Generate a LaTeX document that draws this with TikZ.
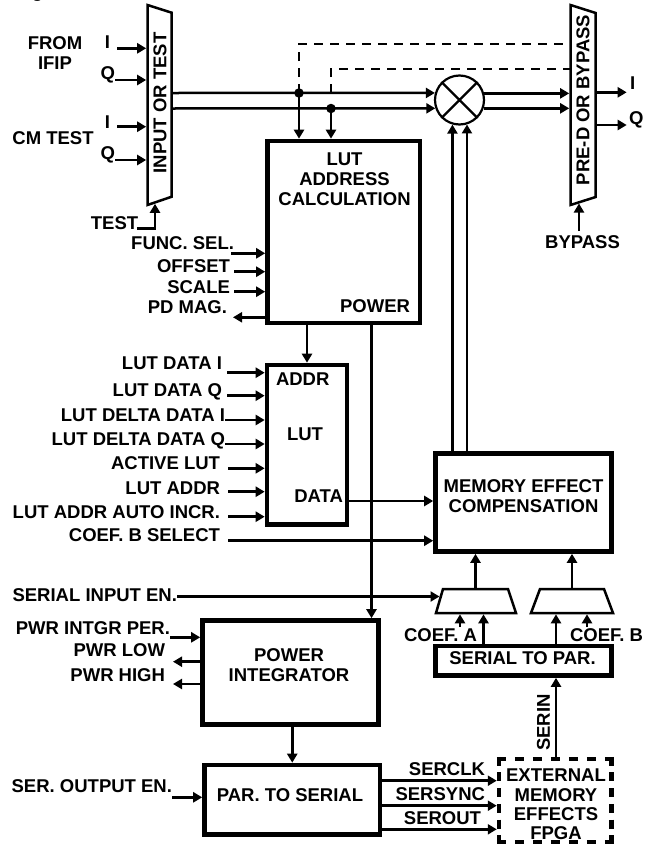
\documentclass[tikz,border=0pt]{standalone}
\usepackage{fontspec}
\setmainfont{Liberation Sans}
\usetikzlibrary{arrows.meta}
\newcommand\lbf{\fontsize{18.5bp}{20bp}\selectfont\bfseries}
\newcommand\lbfs{\fontsize{18.5bp}{19.3bp}\selectfont\bfseries}
\begin{document}
\begin{tikzpicture}[x=1bp,y=-1bp,
 every node/.style={font=\lbf,inner sep=0pt,outer sep=0pt},
 conn/.style={line width=2.5bp},
 arr/.style={line width=2.5bp,-{Triangle[length=9bp,width=10bp]}},
 blk/.style 2 args={draw,line width=4.6bp,outer sep=2.3bp,minimum width=#1,minimum height=#2},
 muxline/.style={line width=2.5bp,line join=miter},
 dsh/.style={line width=2.2bp,dash pattern=on 9bp off 7bp},
 fdash/.style={line width=4.5bp,dash pattern=on 9bp off #1},
 lbl/.style={anchor=east},
 dotn/.style={circle,fill,inner sep=0pt,minimum size=9.5bp}
]
\useasboundingbox (0,0) rectangle (655,848);
\fill[white] (0,0) rectangle (655,848);

% caption fragment
\node[anchor=base] (capg) at (37.5,-2.2) {g};

% ---------- blocks ----------
\node[blk={152.5bp}{182bp}] (lac) at (343.75,232) {};
\node[blk={80bp}{159.5bp}] (lut) at (307,444.75) {};
\node[blk={176bp}{98bp}] (mec) at (523.5,502.5) {};
\node[blk={176bp}{104bp}] (pi) at (290.5,672.5) {};
\node[blk={175.5bp}{69.5bp}] (pts) at (292.25,799.75) {};
\node[blk={176bp}{29.5bp}] (stp) at (523.5,660.75) {};
\node[minimum width=112.5bp,minimum height=83bp,outer sep=2.25bp] (fpga) at (555.25,800.5) {};
% dashed outline of the FPGA block, side by side so that the corners are solid
\coordinate (fa) at (496.75,759);
\coordinate (fb) at (613.75,759);
\coordinate (fc) at (496.75,842);
\coordinate (fd) at (613.75,842);
\coordinate (fe) at (499,756.75);
\coordinate (ff) at (499,844.25);
\coordinate (fg) at (611.5,756.75);
\coordinate (fh) at (611.5,844.25);
\draw[fdash=9bp] (fa) -- (fb);
\draw[fdash=9bp] (fc) -- (fd);
\draw[fdash=6.7bp] (fe) -- (ff);
\draw[fdash=6.7bp] (fg) -- (fh);

% block texts
\node[align=center] (tlac) at (344.5,179.5) {LUT\\ADDRESS\\CALCULATION};
\node[anchor=east] (tpow) at (410,306.5) {POWER};
\node[anchor=west] (taddr) at (276,379) {ADDR};
\node (tlut) at (305,434.5) {LUT};
\node[anchor=east] (tdata) at (343,496) {DATA};
\node[align=center] (tmec) at (523.5,496) {MEMORY EFFECT\\COMPENSATION};
\node[align=center] (tpi) at (289,665) {POWER\\INTEGRATOR};
\node (tpts) at (290,795) {PAR. TO SERIAL};
\node (tstp) at (522.5,658.5) {SERIAL TO PAR.};
\node[align=center,font=\lbfs] (tfpga) at (556,804.5) {EXTERNAL\\MEMORY\\EFFECTS\\FPGA};

% ---------- input mux ----------
\coordinate (im1) at (147.5,5);
\coordinate (im2) at (171.7,12.7);
\coordinate (im3) at (171.7,196.7);
\coordinate (im4) at (147.5,205);
\draw[muxline] (im1) -- (im2) -- (im3) -- (im4) -- cycle;
\node[rotate=90] (imT) at (160,103) {INPUT OR TEST};

\node[align=center] (lfrom) at (55,53) {FROM\\IFIP};
\node (lcm) at (53,138.5) {CM TEST};
\node[lbl] (li1) at (110,42.5) {I};
\node[lbl] (lq1) at (115,75) {Q};
\node[lbl] (li2) at (110,122.5) {I};
\node[lbl] (lq2) at (115,155) {Q};
\coordinate (imL) at (146.2,0);
\coordinate (ia1) at (117,48.3);
\coordinate (ia2) at (115,80);
\coordinate (ia3) at (117,126.7);
\coordinate (ia4) at (115,160);
\draw[arr] (ia1) -- (ia1 -| imL);
\draw[arr] (ia2) -- (ia2 -| imL);
\draw[arr] (ia3) -- (ia3 -| imL);
\draw[arr] (ia4) -- (ia4 -| imL);

\node (ltest) at (114.5,223.5) {TEST};
\coordinate (ts) at (137,228.3);
\coordinate (tsE) at (155,203.8);
\draw[arr] (ts) -| (tsE);

% ---------- mixer ----------
\node[circle,draw,line width=2.2bp,minimum size=49bp,outer sep=1.1bp] (mix) at (459.5,100) {};
\draw[line width=2.2bp] (mix.45) -- (mix.225) (mix.135) -- (mix.315);

\coordinate (imo1) at (173,93);
\coordinate (imo2) at (173,108.5);
\draw[arr] (imo1) -- (mix.164.1);
\draw[arr] (imo2) -- (mix.199.5);
\node[dotn] (d1) at (299,93) {};
\node[dotn] (d2) at (331,108.5) {};
\draw[arr] (d1.center) -- (d1 |- lac.north);
\draw[arr] (d2.center) -- (d2 |- lac.north);

% dashed bypass paths
\coordinate (pd1) at (569.5,44.3);
\coordinate (pd2) at (569.5,69);
\coordinate (j2) at (331,93);
\draw[dsh] (d1.center) |- (pd1);
\draw[dsh] (j2) |- (pd2);

% ---------- pre-D mux ----------
\coordinate (pm1) at (570.5,5);
\coordinate (pm2) at (595.7,13);
\coordinate (pm3) at (595.7,197);
\coordinate (pm4) at (570.5,205);
\draw[muxline] (pm1) -- (pm2) -- (pm3) -- (pm4) -- cycle;
\node[rotate=90] (pmT) at (583,100) {PRE-D OR BYPASS};
\coordinate (pmL) at (569.2,0);
\draw[arr] (mix.15.9) -- (mix.15.9 -| pmL);
\draw[arr] (mix.-19.5) -- (mix.-19.5 -| pmL);

\coordinate (po1) at (597,92.3);
\coordinate (pq1) at (626.7,92.3);
\coordinate (po2) at (597,125);
\coordinate (pq2) at (626.7,125);
\draw[arr] (po1) -- (pq1);
\draw[arr] (po2) -- (pq2);
\node[anchor=west] (lio) at (630,83.5) {I};
\node[anchor=west] (lqo) at (629,120) {Q};

\node (lby) at (582.5,242) {BYPASS};
\coordinate (bp0) at (579,231);
\coordinate (bp1) at (579,203.5);
\draw[arr] (bp0) -- (bp1);

% mixer inputs from MEC
\draw[arr] (mix.254.1 |- mec.north) -- (mix.254.1);
\draw[arr] (mix.287.1 |- mec.north) -- (mix.287.1);

% ---------- LUT address calculation inputs ----------
\node[lbl] (lfs) at (234,243) {FUNC. SEL.};
\node[lbl] (lof) at (230,266.5) {OFFSET};
\node[lbl] (lsc) at (230,287) {SCALE};
\node[lbl] (lpd) at (227,307) {PD MAG.};
\coordinate (f0) at (231,253.3);
\coordinate (o0) at (234,271.7);
\coordinate (s0) at (234,291.7);
\coordinate (p0) at (233,317.3);
\draw[arr] (f0) -- (f0 -| lac.west);
\draw[arr] (o0) -- (o0 -| lac.west);
\draw[arr] (s0) -- (s0 -| lac.west);
\draw[arr] (p0 -| lac.west) -- (p0);

\draw[arr] (lut.north |- lac.south) -- (lut.north);
\coordinate (pw) at (371.5,0);
\draw[arr] (pw |- lac.south) -- (pw |- pi.north);

% ---------- LUT inputs ----------
\node[lbl] (l1) at (222,363) {LUT DATA I};
\node[lbl] (l2) at (222,392) {LUT DATA Q};
\node[lbl] (l3) at (225,415.5) {LUT DELTA DATA I};
\node[lbl] (l4) at (225,441) {LUT DELTA DATA Q};
\node[lbl] (l5) at (220,463.5) {ACTIVE LUT};
\node[lbl] (l6) at (220,488) {LUT ADDR};
\node[lbl] (l7) at (220,512) {LUT ADDR AUTO INCR.};
\node[lbl] (l8) at (220,535) {COEF. B SELECT};
\coordinate (u1) at (227,372.7);
\coordinate (u2) at (227,395.7);
\coordinate (u3) at (225,420);
\coordinate (u4) at (225,444);
\coordinate (u5) at (228,468.3);
\coordinate (u6) at (228,491.7);
\coordinate (u7) at (228,516.7);
\coordinate (u8) at (228,540.7);
\foreach \c in {u1,u2,u3,u4,u5,u6,u7}{\draw[arr] (\c) -- (\c -| lut.west);}
\draw[arr] (u8) -- (u8 -| mec.west);
\coordinate (dt) at (0,501);
\draw[arr] (dt -| lut.east) -- (dt -| mec.west);

% ---------- coefficient muxes ----------
\coordinate (ma1) at (443,589);
\coordinate (ma2) at (508,589);
\coordinate (ma3) at (516,613);
\coordinate (ma4) at (436,613);
\draw[muxline] (ma1) -- (ma2) -- (ma3) -- (ma4) -- cycle;
\coordinate (mb1) at (540,589);
\coordinate (mb2) at (604,589);
\coordinate (mb3) at (613,613);
\coordinate (mb4) at (531,613);
\draw[muxline] (mb1) -- (mb2) -- (mb3) -- (mb4) -- cycle;

\coordinate (maT) at (475.5,587.8);
\coordinate (mbT) at (572,587.8);
\draw[arr] (maT) -- (maT |- mec.south);
\draw[arr] (mbT) -- (mbT |- mec.south);
\coordinate (maB) at (483.5,614.3);
\coordinate (mbB) at (556,614.3);
\draw[arr] (maB |- stp.north) -- (maB);
\draw[arr] (mbB |- stp.north) -- (mbB);
\coordinate (ca0) at (460,627);
\coordinate (ca1) at (460,614.3);
\coordinate (cb0) at (587,627);
\coordinate (cb1) at (587,614.3);
\node[anchor=east] (lca) at (477,635) {COEF. A};
\node[anchor=west] (lcb) at (570,635) {COEF. B};
\draw[arr] (ca0) -- (ca1);
\draw[arr] (cb0) -- (cb1);

\node[lbl] (lsie) at (177,595) {SERIAL INPUT EN.};
\coordinate (sie0) at (177,596.5);
\coordinate (sie1) at (439.5,596.5);
\draw[arr] (sie0) -- (sie1);

% SERIN
\coordinate (sx) at (556,0);
\draw[arr] (sx |- fpga.north) -- (sx |- stp.south);
\node[rotate=90] (lserin) at (543.5,722.5) {SERIN};

% ---------- power integrator ----------
\node[lbl] (lpip) at (170,628) {PWR INTGR PER.};
\node[lbl] (lplo) at (165,650.5) {PWR LOW};
\node[lbl] (lphi) at (165,675) {PWR HIGH};
\coordinate (pp0) at (170,637.3);
\coordinate (pl0) at (173,661.7);
\coordinate (ph0) at (173,684);
\draw[arr] (pp0) -- (pp0 -| pi.west);
\draw[arr] (pl0 -| pi.west) -- (pl0);
\draw[arr] (ph0 -| pi.west) -- (ph0);
\draw[arr] (pts.north |- pi.south) -- (pts.north);

% ---------- par to serial ----------
\node[lbl] (lsoe) at (172,786) {SER. OUTPUT EN.};
\coordinate (so0) at (172,797.3);
\draw[arr] (so0) -- (so0 -| pts.west);

\node[lbl] (lsclk) at (485,769) {SERCLK};
\node[lbl] (lssync) at (485,794.5) {SERSYNC};
\node[lbl] (lsout) at (481,818) {SEROUT};
\coordinate (sc) at (0,780.7);
\coordinate (ss) at (0,805.7);
\coordinate (so) at (0,829.3);
\draw[arr] (sc -| pts.east) -- (sc -| fpga.west);
\draw[arr] (ss -| pts.east) -- (ss -| fpga.west);
\draw[arr] (so -| pts.east) -- (so -| fpga.west);
\end{tikzpicture}
\end{document}
